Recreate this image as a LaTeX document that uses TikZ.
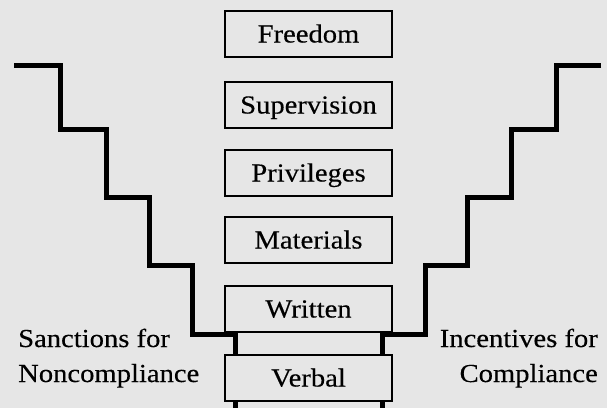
\documentclass[tikz,border=0pt]{standalone}
\usepackage{fontspec}
\setmainfont{Liberation Serif}[FakeStretch=1.1,FakeBold=0.3]
\definecolor{bg}{HTML}{E6E6E6}
\begin{document}
\begin{tikzpicture}[x=1pt,y=-1pt,
  stair/.style={line width=5pt,line join=miter,line cap=butt},
  level/.style={draw,line width=2pt,fill=bg,minimum width=167pt,minimum height=46pt,inner sep=0pt,text height=17pt,text depth=0pt,font=\fontsize{26}{30}\selectfont},
  side/.style={inner sep=0pt,font=\fontsize{26}{35}\selectfont,anchor=base}]
\fill[bg] (0,0) rectangle (607,408);
\useasboundingbox (0,0) rectangle (607,408);
% left staircase
\coordinate (l0) at (14,65);
\coordinate (lend) at (235,408);
\draw[stair] (l0) -- (60,65) -- (60,129) -- (106,129) -- (106,197) -- (149,197) -- (149,265) -- (192,265) -- (192,334) -- (235,334) -- (lend);
% right staircase
\coordinate (r0) at (601,65);
\coordinate (rend) at (382,408);
\draw[stair] (r0) -- (556,65) -- (556,129) -- (511,129) -- (511,197) -- (467,197) -- (467,265) -- (425,265) -- (425,334) -- (382,334) -- (rend);
% levels
\node[level] (freedom) at (308.5,34) {Freedom};
\node[level] (supervision) at (308.5,105) {Supervision};
\node[level] (privileges) at (308.5,173) {Privileges};
\node[level] (materials) at (308.5,240) {Materials};
\node[level] (written) at (308.5,309) {Written};
\node[level] (verbal) at (308.5,378) {Verbal};
% side labels
\node[side,anchor=base west] (sanc1) at (18,347) {Sanctions for};
\node[side,anchor=base west] (sanc2) at (18,382) {Noncompliance};
\node[side,anchor=base east] (inc1) at (598,347) {Incentives for};
\node[side,anchor=base east] (inc2) at (598,382) {Compliance};
\end{tikzpicture}
\end{document}
